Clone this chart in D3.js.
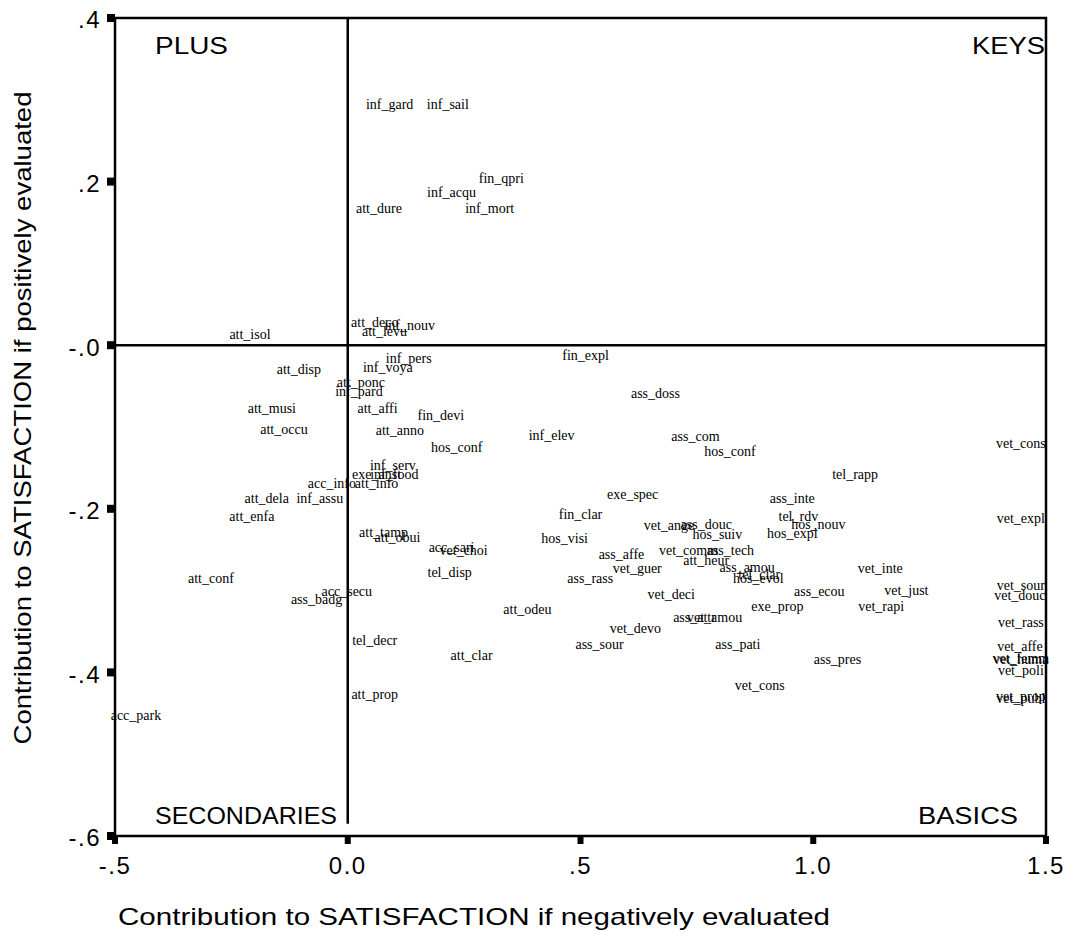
<!DOCTYPE html>
<html>
<head>
  <title>Satisfaction contributions</title>
  <style>
    body { margin: 0; padding: 0; background: #fff; }
    svg { display: block; }
    .tick-label, .axis-title, .quad { font-family: "Liberation Sans", Arial, sans-serif; fill: #000; }
    .pt { font-family: "Liberation Serif", "Times New Roman", serif; font-size: 14px; fill: #000; }
  </style>
</head>
<body>
  <div id="chart"></div>
  <script src="https://d3js.org/d3.v7.min.js"></script>
  <script>
    // item labels and their two contribution scores
    const itemNames = [
      'inf_gard', 'inf_sail', 'fin_qpri', 'inf_acqu', 'att_dure', 'inf_mort',
      'att_deco', 'inf_nouv', 'att_levu', 'inf_pers', 'inf_voya', 'att_ponc', 'inf_pard',
      'att_affi', 'fin_devi', 'att_anno', 'hos_conf', 'inf_elev',
      'inf_serv', 'exe_anst', 'inf_food', 'acc_info', 'att_info',
      'att_tamp', 'att_obui', 'acc_sari', 'vet_choi', 'tel_disp', 'acc_secu', 'ass_badg',
      'att_odeu', 'tel_decr', 'att_clar', 'att_prop',
      'att_isol', 'att_disp', 'att_musi', 'att_occu', 'att_dela', 'inf_assu', 'att_enfa',
      'att_conf', 'acc_park',
      'fin_expl', 'ass_doss', 'ass_com', 'hos_conf', 'exe_spec', 'ass_inte',
      'fin_clar', 'vet_ange', 'ass_douc', 'hos_suiv', 'hos_visi', 'tel_rdv', 'hos_nouv', 'hos_expl',
      'ass_affe', 'vet_comm', 'ass_tech', 'att_heur', 'ass_amou', 'tel_clar', 'hos_evol',
      'ass_rass', 'vet_guer', 'vet_deci', 'ass_ecou', 'exe_prop', 'ass_attr', 'vet_amou', 'vet_devo',
      'ass_sour', 'ass_pati', 'vet_cons',
      'vet_cons', 'tel_rapp', 'vet_expl', 'vet_inte', 'vet_just', 'vet_sour',
      'vet_rapi', 'vet_douc', 'vet_rass', 'ass_pres', 'vet_affe', 'vet_femm', 'vet_huma',
      'vet_poli', 'vet_prop', 'vet_publ'
    ];
    // contribution if negatively evaluated (x)
    const negContrib = [
      0.090, 0.215, 0.330, 0.223, 0.067, 0.305,
      0.058, 0.133, 0.079, 0.131, 0.086, 0.028, 0.024,
      0.064, 0.200, 0.112, 0.234, 0.438,
      0.097, 0.062, 0.100, -0.034, 0.062,
      0.077, 0.107, 0.223, 0.249, 0.219, -0.002, -0.067,
      0.386, 0.058, 0.266, 0.058,
      -0.210, -0.105, -0.163, -0.137, -0.174, -0.060, -0.206,
      -0.294, -0.455,
      0.511, 0.661, 0.747, 0.821, 0.612, 0.955,
      0.500, 0.690, 0.770, 0.794, 0.466, 0.968, 1.011, 0.955,
      0.588, 0.732, 0.822, 0.770, 0.858, 0.884, 0.882,
      0.521, 0.622, 0.695, 1.013, 0.923, 0.745, 0.788, 0.618,
      0.541, 0.838, 0.885,
      1.446, 1.090, 1.446, 1.144, 1.200, 1.446,
      1.146, 1.444, 1.446, 1.052, 1.444, 1.446, 1.446,
      1.446, 1.446, 1.446
    ];
    // contribution if positively evaluated (y)
    const posContrib = [
      0.295, 0.295, 0.204, 0.187, 0.168, 0.168,
      0.028, 0.024, 0.017, -0.016, -0.027, -0.045, -0.056,
      -0.077, -0.085, -0.104, -0.125, -0.110,
      -0.146, -0.157, -0.157, -0.168, -0.168,
      -0.228, -0.234, -0.247, -0.251, -0.277, -0.300, -0.311,
      -0.323, -0.361, -0.379, -0.426,
      0.013, -0.029, -0.077, -0.102, -0.187, -0.187, -0.209,
      -0.285, -0.452,
      -0.012, -0.059, -0.111, -0.129, -0.182, -0.187,
      -0.207, -0.220, -0.219, -0.231, -0.236, -0.209, -0.219, -0.230,
      -0.255, -0.251, -0.251, -0.263, -0.271, -0.280, -0.285,
      -0.285, -0.273, -0.304, -0.301, -0.319, -0.333, -0.333, -0.346,
      -0.366, -0.366, -0.415,
      -0.120, -0.157, -0.211, -0.273, -0.299, -0.293,
      -0.319, -0.305, -0.339, -0.384, -0.368, -0.382, -0.384,
      -0.397, -0.429, -0.431
    ];

    const xTicks = [-0.5, 0, 0.5, 1.0, 1.5];
    const xTickLabels = ['-.5', '0.0', '.5', '1.0', '1.5'];
    const yTicks = [0.4, 0.2, 0, -0.2, -0.4, -0.6];
    const yTickLabels = ['.4', '.2', '-.0', '-.2', '-.4', '-.6'];
    const quadrantNames = ['PLUS', 'KEYS', 'SECONDARIES', 'BASICS'];

    const width = 1080, height = 939;
    const plotL = 115, plotR = 1046, plotT = 18, plotB = 836;

    const svg = d3.select('#chart').append('svg')
      .attr('width', width)
      .attr('height', height);

    const x = d3.scaleLinear().domain([-0.5, 1.5]).range([plotL, plotR]);
    const y = d3.scaleLinear().domain([0.4, -0.6]).range([plotT, plotB]);

    // frame
    svg.append('rect')
      .attr('x', plotL).attr('y', plotT)
      .attr('width', plotR - plotL).attr('height', plotB - plotT)
      .attr('fill', 'none').attr('stroke', '#000').attr('stroke-width', 2.5);

    // reference lines at zero
    svg.append('line')
      .attr('x1', plotL).attr('x2', plotR)
      .attr('y1', y(0)).attr('y2', y(0))
      .attr('stroke', '#000').attr('stroke-width', 2.5);
    svg.append('line')
      .attr('x1', x(0)).attr('x2', x(0))
      .attr('y1', plotT).attr('y2', y(-0.585))
      .attr('stroke', '#000').attr('stroke-width', 2.5);

    // y ticks (small squares) and labels
    svg.selectAll('.ytick').data(yTicks).enter().append('rect')
      .attr('class', 'ytick')
      .attr('x', plotL - 8).attr('y', d => y(d) - 4)
      .attr('width', 8).attr('height', 8)
      .attr('fill', '#000');
    svg.selectAll('.ylab').data(yTicks).enter().append('text')
      .attr('class', 'tick-label ylab')
      .attr('x', 101).attr('y', d => y(d) + 2)
      .attr('dy', '0.35em')
      .attr('text-anchor', 'end')
      .style('font-size', '24px')
      .style('letter-spacing', '1.5px')
      .text((d, i) => yTickLabels[i]);

    // x ticks and labels
    svg.selectAll('.xtick').data(xTicks).enter().append('rect')
      .attr('class', 'xtick')
      .attr('x', d => x(d) - 3).attr('y', plotB)
      .attr('width', 6).attr('height', 8)
      .attr('fill', '#000');
    svg.selectAll('.xlab').data(xTicks).enter().append('text')
      .attr('class', 'tick-label xlab')
      .attr('x', d => x(d)).attr('y', 866)
      .attr('dy', '0.35em')
      .attr('text-anchor', 'middle')
      .style('font-size', '24px')
      .style('letter-spacing', '1.5px')
      .text((d, i) => xTickLabels[i]);

    // axis titles
    svg.append('text')
      .attr('class', 'axis-title')
      .attr('x', 118).attr('y', 925)
      .attr('textLength', 712).attr('lengthAdjust', 'spacingAndGlyphs')
      .style('font-size', '24px')
      .text('Contribution to SATISFACTION if negatively evaluated');
    svg.append('text')
      .attr('class', 'axis-title')
      .attr('transform', 'translate(31,418) rotate(-90)')
      .attr('text-anchor', 'middle')
      .attr('textLength', 653).attr('lengthAdjust', 'spacingAndGlyphs')
      .style('font-size', '24px')
      .text('Contribution to SATISFACTION if positively evaluated');

    // quadrant names
    const quadPos = [
      { x: 155, y: 54, w: 73 },
      { x: 972, y: 54, w: 73 },
      { x: 155, y: 824, w: 182 },
      { x: 918, y: 824, w: 100 }
    ];
    svg.selectAll('.quad').data(quadrantNames).enter().append('text')
      .attr('class', 'quad')
      .attr('x', (d, i) => quadPos[i].x)
      .attr('y', (d, i) => quadPos[i].y)
      .attr('textLength', (d, i) => quadPos[i].w)
      .attr('lengthAdjust', 'spacingAndGlyphs')
      .style('font-size', '24px')
      .text(d => d);

    // case labels
    const points = itemNames.map((name, i) => ({ name, nx: negContrib[i], py: posContrib[i] }));
    svg.selectAll('.pt').data(points).enter().append('text')
      .attr('class', 'pt')
      .attr('x', d => x(d.nx))
      .attr('y', d => y(d.py))
      .attr('dy', '0.35em')
      .attr('text-anchor', 'middle')
      .text(d => d.name);
  </script>
</body>
</html>
